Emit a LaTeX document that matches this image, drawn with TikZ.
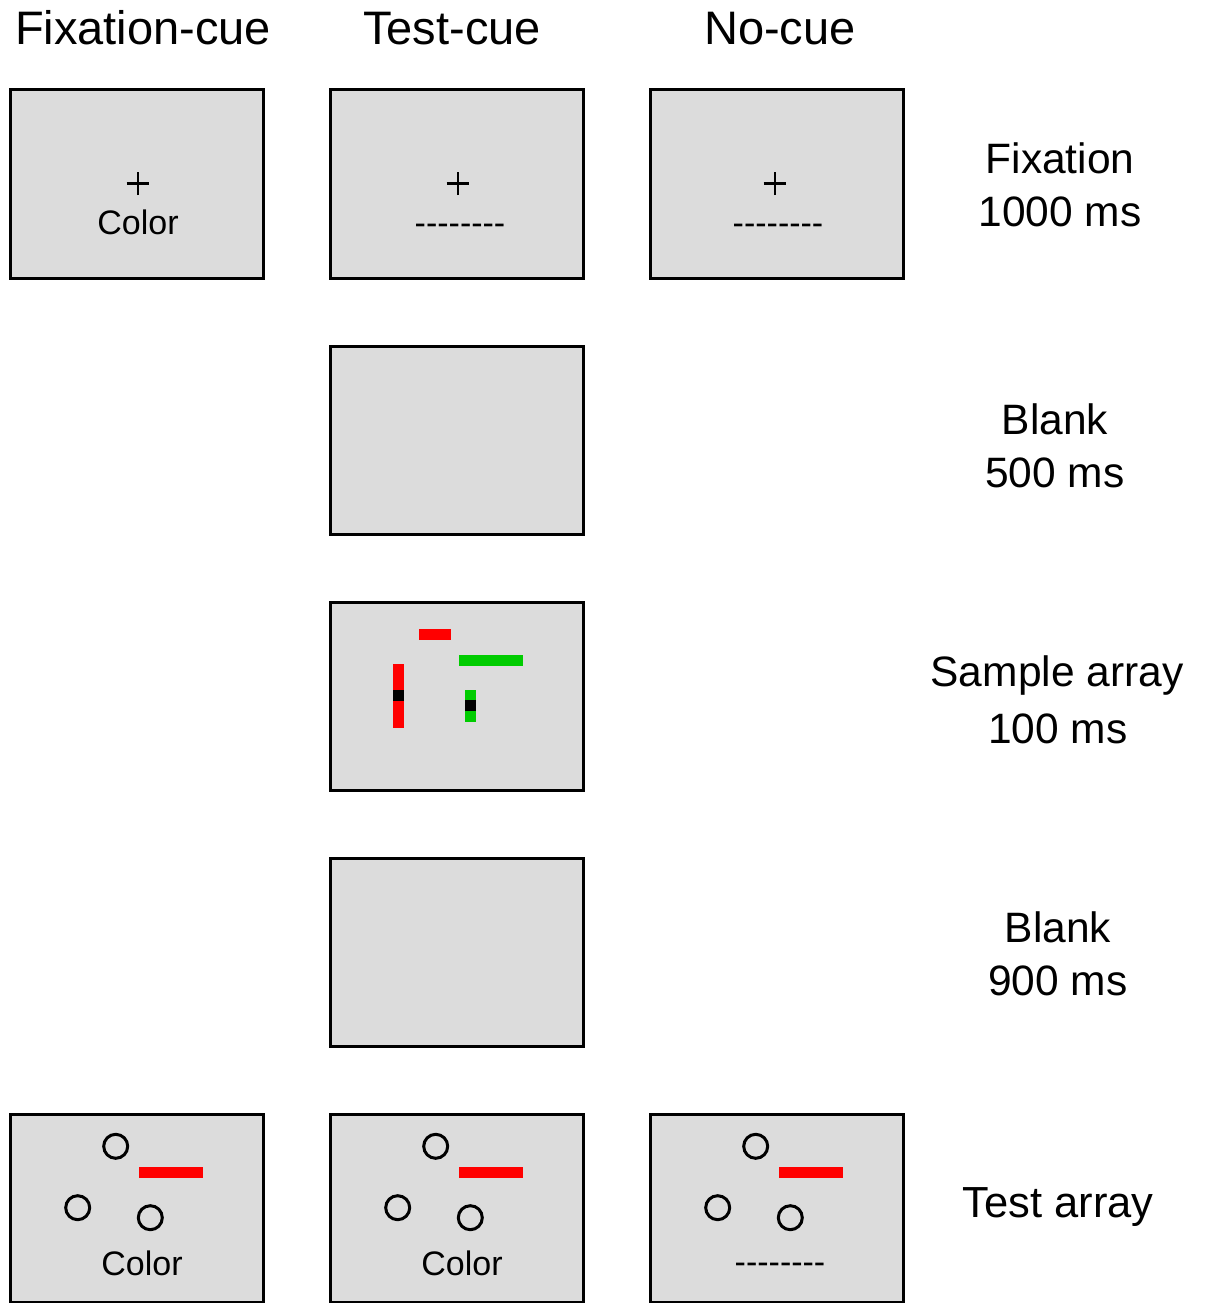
\documentclass[tikz,border=0pt]{standalone}
\usepackage{fontspec}
\setmainfont{Liberation Sans}
\definecolor{panelgray}{HTML}{DCDCDC}
\definecolor{barred}{HTML}{FF0000}
\definecolor{bargreen}{HTML}{00CC00}
\newcommand{\dashrow}{-{}-{}-{}-{}-{}-{}-{}-}
\begin{document}
\begin{tikzpicture}[x=1pt,y=-1pt,
  panel/.style={draw=black,line width=3pt,fill=panelgray,minimum width=253pt,minimum height=188pt,inner sep=0pt,outer sep=0pt},
  head/.style={anchor=base,inner sep=0pt,font=\fontsize{47}{56}\selectfont},
  lab/.style={anchor=base,inner sep=0pt,font=\fontsize{42.5}{50}\selectfont},
  small/.style={anchor=base,inner sep=0pt,font=\fontsize{34}{40}\selectfont},
  ring/.style={circle,draw=black,line width=3pt,minimum size=24pt,inner sep=0pt},
  plusline/.style={line width=2.6pt}
]
\useasboundingbox (0,0) rectangle (1207,1303);
\fill[white] (0,0) rectangle (1207,1303);

% headers
\node[head] (h1) at (143,45) {Fixation-cue};
\node[head] (h2) at (452,45) {Test-cue};
\node[head] (h3) at (780,45) {No-cue};

% panels
\node[panel] (p11) at (136.5,184) {};
\node[panel] (p12) at (456.5,184) {};
\node[panel] (p13) at (776.5,184) {};
\node[panel] (p22) at (456.5,440) {};
\node[panel] (p32) at (456.5,696) {};
\node[panel] (p42) at (456.5,952) {};
\node[panel] (p51) at (136.5,1208) {};
\node[panel] (p52) at (456.5,1208) {};
\node[panel] (p53) at (776.5,1208) {};

% fixation row contents
\foreach \cx/\nm in {138/a,458/b,775/c}{
  \coordinate (fx\nm) at (\cx,183.7);
  \draw[plusline] ([xshift=-11.3pt]fx\nm) -- ([xshift=11.3pt]fx\nm);
  \draw[plusline] ([yshift=-11.3pt]fx\nm) -- ([yshift=11.3pt]fx\nm);
}
\node[small] (c11) at (138,234.5) {Color};
\node[small] (d12) at (460,234.5) {\dashrow};
\node[small] (d13) at (778,234.5) {\dashrow};

% sample array
\fill[barred] (419,629) rectangle (451,640);
\fill[bargreen] (459,655) rectangle (523,666);
\fill[barred] (393,664) rectangle (404,728);
\fill[black] (393,690) rectangle (404,701);
\fill[bargreen] (465,690) rectangle (476,722);
\fill[black] (465,700) rectangle (476,711);

% test arrays
\foreach \dx/\nm in {0/a,320/b,640/c}{
  \node[ring] (r1\nm) at (115.7+\dx,1146.3) {};
  \node[ring] (r2\nm) at (77.7+\dx,1207.7) {};
  \node[ring] (r3\nm) at (150.3+\dx,1217.7) {};
  \fill[barred] (139+\dx,1167) rectangle (203+\dx,1177.7);
}
\node[small] (c51) at (142,1275) {Color};
\node[small] (c52) at (462,1275) {Color};
\node[small] (d53) at (780,1273) {\dashrow};

% right labels
\node[lab] (l1a) at (1060,173) {Fixation};
\node[lab] (l1b) at (1060,226) {1000 ms};
\node[lab] (l2a) at (1055,434) {Blank};
\node[lab] (l2b) at (1055,487) {500 ms};
\node[lab] (l3a) at (1057,686) {Sample array};
\node[lab] (l3b) at (1058,743) {100 ms};
\node[lab] (l4a) at (1058,942) {Blank};
\node[lab] (l4b) at (1058,995) {900 ms};
\node[lab,font=\fontsize{43.5}{50}\selectfont] (l5) at (1058,1217) {Test array};
\end{tikzpicture}
\end{document}
